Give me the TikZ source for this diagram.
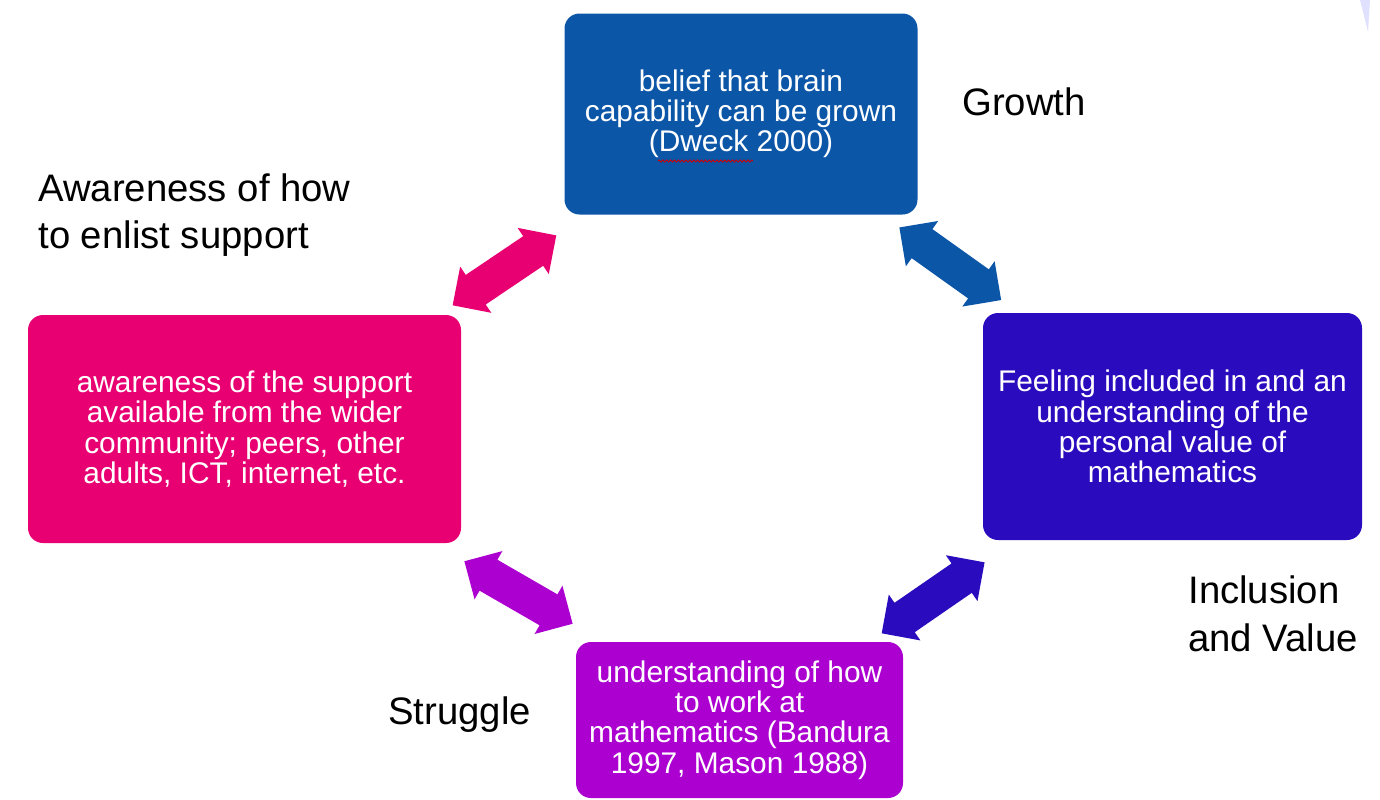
\documentclass[tikz,border=0pt]{standalone}
\usepackage{fontspec}
\setmainfont{Liberation Sans}
\usepackage{xcolor}
\usepackage{tikz}
\usetikzlibrary{shapes,arrows,positioning,calc,decorations.pathmorphing}
\definecolor{growthblue}{RGB}{12,86,168}
\definecolor{inclusionindigo}{RGB}{42,12,190}
\definecolor{supportpink}{RGB}{232,0,114}
\definecolor{strugglepurple}{RGB}{172,0,208}

\begin{document}
\begin{tikzpicture}[
    box/.style={rectangle, rounded corners=0.3cm, align=center, text=white, inner sep=0pt,
        font=\fontsize{17}{17.2}\selectfont},
    label/.style={anchor=west, align=left, inner sep=0pt, font=\fontsize{21.8}{27}\selectfont},
    link/.style={shape=double arrow, minimum height=2.5cm, inner xsep=0pt, inner ysep=0.35cm,
        double arrow head extend=0.2cm}
]
    \useasboundingbox (0,0) rectangle (27.6,-15.98);

    \node[box, fill=growthblue, minimum width=7.06cm, minimum height=4.02cm] (growth) at (14.82,-2.28) {belief that brain\\capability can be grown\\(Dweck 2000)};
    \node[box, fill=inclusionindigo, minimum width=7.58cm, minimum height=4.54cm] (inclusion) at (23.45,-8.53) {Feeling included in and an\\understanding of the\\personal value of\\mathematics};
    \node[box, fill=supportpink, minimum width=8.66cm, minimum height=4.56cm] (support) at (4.89,-8.58) {awareness of the support\\available from the wider\\community; peers, other\\adults, ICT, internet, etc.};
    \node[box, fill=strugglepurple, minimum width=6.54cm, minimum height=3.12cm] (struggle) at (14.79,-14.4) {understanding of how\\to work at\\mathematics (Bandura\\1997, Mason 1988)};

    % spell-check squiggle under Dweck
    \draw[red!80!black, line width=0.5pt, decorate, decoration={zigzag, amplitude=0.6pt, segment length=2.2pt}]
        ($(growth.center)+(-1.66,-0.94)$) -- ++(1.9,0);

    \node[label] (growthlbl) at (19.24,-2.04) {Growth};
    \node[label] (supportlbl) at (0.76,-4.3) {Awareness of how\\to enlist support};
    \node[label] (inclusionlbl) at (23.76,-12.28) {Inclusion\\and Value};
    \node[label] (strugglelbl) at (7.76,-14.3) {Struggle};

    \node[link, fill=supportpink, rotate=34, xshift=-0.2cm] (supportlink) at ($(growth.south west)!0.5!(support.north east)$) {};
    \node[link, fill=growthblue, rotate=-35.5] (growthlink) at ($(growth.south east)!0.5!(inclusion.north west)$) {};
    \node[link, fill=strugglepurple, rotate=-30] (strugglelink) at ($(support.south east)!0.5!(struggle.north west)$) {};
    \node[link, fill=inclusionindigo, rotate=34.6, xshift=-0.24cm] (inclusionlink) at ($(struggle.north east)!0.5!(inclusion.south west)$) {};

    % sliver at the top right edge
    \fill[blue!12] (27.2,0) -- (27.4,0) -- (27.36,-0.64) -- cycle;
\end{tikzpicture}
\end{document}
